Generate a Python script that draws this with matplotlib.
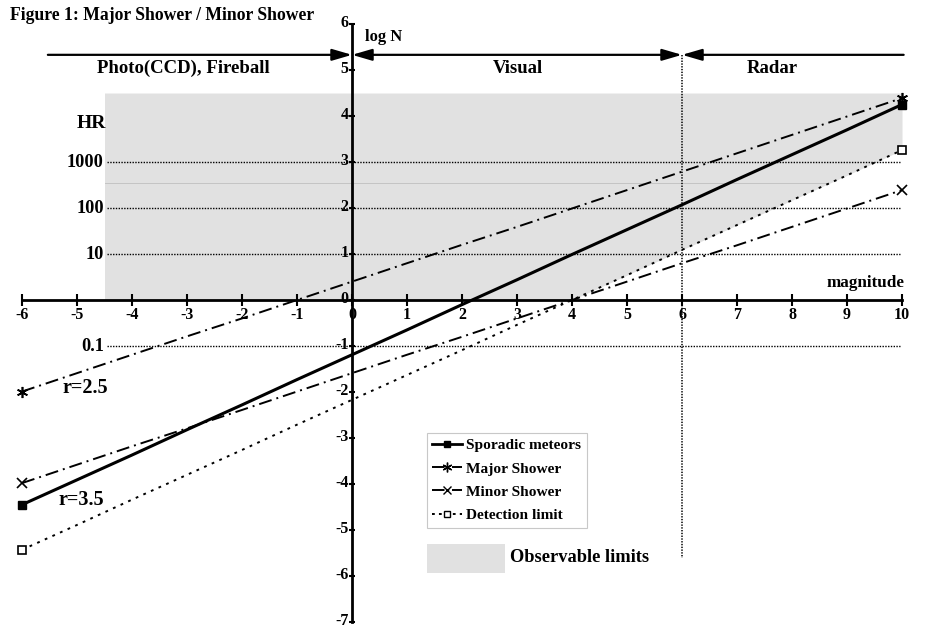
import numpy as np
import matplotlib
matplotlib.use("Agg")
import matplotlib.pyplot as plt
import matplotlib.transforms as mtransforms
from matplotlib.lines import Line2D
from matplotlib.patches import Rectangle

plt.rcParams['font.family'] = ['Liberation Serif', 'DejaVu Serif']
plt.rcParams['font.weight'] = 'bold'
plt.rcParams['lines.scale_dashes'] = False
plt.rcParams['axes.unicode_minus'] = False

# magnitude scale and log N values
mags = np.array([-6, -5, -4, -3, -2, -1, 0, 1, 2, 3, 4, 5, 6, 7, 8, 9, 10])
sporadic = np.array([-4.45, -3.91, -3.37, -2.82, -2.28, -1.73, -1.19, -0.65, -0.10,
                     0.44, 0.99, 1.53, 2.07, 2.62, 3.16, 3.70, 4.25])
major = np.array([-1.99, -1.59, -1.19, -0.79, -0.40, 0.00, 0.40, 0.80, 1.20,
                  1.59, 1.99, 2.39, 2.79, 3.19, 3.59, 3.99, 4.39])
minor = np.array([-3.98, -3.58, -3.18, -2.79, -2.39, -1.99, -1.59, -1.19, -0.80,
                  -0.40, 0.00, 0.40, 0.80, 1.19, 1.59, 1.99, 2.39])
detection = np.array([-5.43, -4.89, -4.34, -3.80, -3.26, -2.71, -2.17, -1.63, -1.09,
                      -0.54, 0.00, 0.54, 1.09, 1.63, 2.17, 2.71, 3.26])

hr_values = [0.1, 10, 100, 1000]
hr_labels = ['0.1', '10', '100', '1000']

regions = ['Photo(CCD), Fireball', 'Visual', 'Radar']
region_centers = [-3.07, 3.02, 7.64]
region_bounds = [-5.53, 0, 6, 10.03]

obs_left, obs_top = -4.5, 4.5
obs_mid = 2.54

fig = plt.figure(figsize=(9.3, 6.29), dpi=100)
ax = fig.add_axes([0, 0, 1, 1])
ax.set_xlim(-6.4, 10.509)
ax.set_ylim(-7.152, 6.522)

# observable region (shaded)
keep = mags >= -4
fx = np.concatenate([[obs_left], mags[keep]])
flo = np.concatenate([[0], np.maximum(detection[keep], 0)])
poly = ax.fill_between(fx, flo, obs_top, color='#e1e1e1', lw=0, zorder=0)
mid = ax.plot([obs_left, 10], [obs_mid, obs_mid], color='#c4c4c4', lw=0.7, zorder=0.5)[0]
mid.set_clip_path(poly.get_paths()[0], ax.transData)

# HR grid
for v, lab in zip(hr_values, hr_labels):
    lv = np.log10(v)
    ax.plot([-4.45, 9.97], [lv, lv], color='black', lw=1.0, dashes=(1, 1), zorder=1)
    ax.text(-4.51, lv, lab, ha='right', va='center', fontsize=13.2)
ax.text(-4.47, 3.83, 'HR', ha='right', va='center', fontsize=14)

# radar boundary
ax.plot([6, 6], [5.33, -5.6], color='black', lw=1.1, dashes=(1, 1), zorder=1)

# series
ax.plot(mags, sporadic, color='black', lw=2.2, marker='s', ms=6,
        markevery=[0, -1], zorder=4)
ax.plot(mags, major, color='black', lw=1.4, dashes=(9.4, 3.6, 1.4, 3.6),
        marker=(6, 2, 0), ms=8, mew=1.2, markevery=[0, -1], zorder=4)
ax.plot(mags, minor, color='black', lw=1.4, dashes=(9.4, 3.6, 1.4, 3.6),
        marker='x', ms=7, mew=1.2, markevery=[0, -1], zorder=4)
ax.plot(mags, detection, color='black', lw=1.4, dashes=(2, 4),
        marker='s', ms=6, mfc='white', mew=1.2, markevery=[0, -1], zorder=4)

ax.text(-5.27, -1.91, 'r=2.5', ha='left', va='center', fontsize=14.5)
ax.text(-5.33, -4.35, 'r=3.5', ha='left', va='center', fontsize=14.5)

# axes through the origin
for s in ['top', 'right']:
    ax.spines[s].set_visible(False)
ax.spines['left'].set_position(('data', 0))
ax.spines['bottom'].set_position(('data', 0))
ax.spines['left'].set_bounds(-7, 6)
ax.spines['bottom'].set_bounds(-6, 10)
ax.spines['left'].set_linewidth(2)
ax.spines['bottom'].set_linewidth(2)
ax.spines['left'].set_zorder(5)
ax.spines['bottom'].set_zorder(5)
ax.set_xticks(range(-6, 11))
ax.set_yticks(range(-7, 7))
ax.tick_params(axis='x', direction='inout', length=8, width=1.5, pad=1, labelsize=11.5)
ax.tick_params(axis='y', direction='inout', length=5, width=1.5, pad=0, labelsize=11.5)
lift = mtransforms.ScaledTranslation(0, 2 / 72, fig.dpi_scale_trans)
for t in ax.get_xticklabels() + ax.get_yticklabels():
    t.set_fontweight('bold')
for t in ax.get_yticklabels():
    t.set_transform(t.get_transform() + lift)

ax.text(0.24, 5.72, 'log N', ha='left', va='center', fontsize=12)
ax.text(10.05, 0.37, 'magnitude', ha='right', va='center', fontsize=12.3)

# region band with arrows
arrow_kw = dict(color='black', lw=1.6, shrinkA=0, shrinkB=0, mutation_scale=10)
ax.annotate('', xy=(region_bounds[1], 5.33), xytext=(region_bounds[0], 5.33),
            arrowprops=dict(arrowstyle='-|>,head_length=1.2,head_width=0.35', **arrow_kw))
ax.annotate('', xy=(region_bounds[2], 5.33), xytext=(region_bounds[1], 5.33),
            arrowprops=dict(arrowstyle='<|-|>,head_length=1.2,head_width=0.35', **arrow_kw))
ax.annotate('', xy=(region_bounds[3], 5.33), xytext=(region_bounds[2], 5.33),
            arrowprops=dict(arrowstyle='<|-,head_length=1.2,head_width=0.35', **arrow_kw))
for name, cx in zip(regions, region_centers):
    ax.text(cx, 5.04, name, ha='center', va='center', fontsize=13.5)

fig.text(0.011, 1 - 16 / 629, 'Figure 1: Major Shower / Minor Shower',
         ha='left', va='center', fontsize=12.7)

# legend
handles = [
    Line2D([], [], color='black', lw=2, marker='s', ms=5),
    Line2D([], [], color='black', lw=1.4, dashes=(9, 2, 1.4, 2), marker=(6, 2, 0), ms=7),
    Line2D([], [], color='black', lw=1.4, dashes=(9, 2, 1.4, 2), marker='x', ms=6),
    Line2D([], [], color='black', lw=1.4, dashes=(2, 3), marker='s', ms=5, mfc='white'),
]
labels = ['Sporadic meteors', 'Major Shower', 'Minor Shower', 'Detection limit']
leg = ax.legend(handles, labels, loc='upper left', bbox_to_anchor=(427 / 930, 1 - 433 / 629),
                bbox_transform=fig.transFigure, borderaxespad=0, fancybox=False,
                edgecolor='#c8c8c8', framealpha=1, handlelength=1.9, handletextpad=0.3,
                labelspacing=0.62, borderpad=0.35, numpoints=1,
                prop={'family': 'Liberation Serif', 'weight': 'bold', 'size': 11.1})
leg.get_frame().set_linewidth(0.8)

fig.add_artist(Rectangle((427 / 930, 1 - 573 / 629), 78 / 930, 29 / 629,
                         transform=fig.transFigure, color='#e1e1e1', lw=0))
fig.text(510 / 930, 1 - 558 / 629, 'Observable limits', ha='left', va='center',
         fontsize=13.2)

fig.savefig('out.png', dpi=100)
